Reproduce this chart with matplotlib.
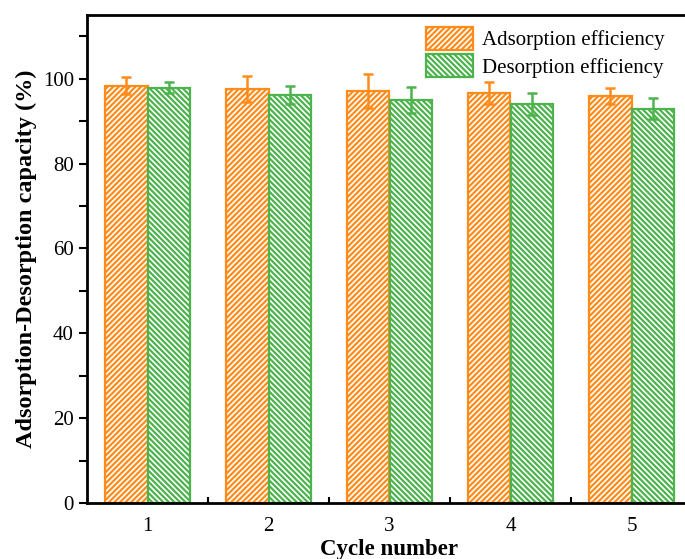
import numpy as np
import matplotlib.pyplot as plt

plt.rcParams['font.family'] = ['Liberation Serif', 'DejaVu Serif']
plt.rcParams['hatch.linewidth'] = 1.6

# 数据
cycles = [1, 2, 3, 4, 5]
ads_eff = [98.3, 97.6, 97.2, 96.6, 96.0]
ads_err = [2.0, 3.0, 4.0, 2.6, 1.9]
des_eff = [97.9, 96.2, 95.0, 94.0, 92.9]
des_err = [1.3, 2.1, 3.0, 2.6, 2.5]

c_ads = '#FF8C1A'
c_des = '#4DB34D'

fig = plt.figure(figsize=(6.85, 5.59), dpi=100)
ax = fig.add_axes([87 / 685, 56 / 559, 605 / 685, 488 / 559])

x = np.array(cycles)
w = 0.355

ax.bar(x - w / 2, ads_eff, w, yerr=ads_err, color='white', edgecolor=c_ads, hatch='//////',
       linewidth=1.6, label='Adsorption efficiency',
       error_kw=dict(ecolor=c_ads, elinewidth=1.8, capsize=3.6, capthick=1.8))
ax.bar(x + w / 2, des_eff, w, yerr=des_err, color='white', edgecolor=c_des, hatch='\\\\\\\\\\\\',
       linewidth=1.6, label='Desorption efficiency',
       error_kw=dict(ecolor=c_des, elinewidth=1.8, capsize=3.6, capthick=1.8))

ax.set_xlim(0.5, 5.5)
ax.set_ylim(0, 115)
ax.set_xticks(cycles)
ax.set_xticks(np.arange(1.5, 5.5, 1), minor=True)
ax.set_yticks(np.arange(0, 101, 20))
ax.set_yticks(np.arange(10, 115, 20), minor=True)

ax.tick_params(axis='x', which='major', length=0, labelsize=15, pad=10)
ax.tick_params(axis='x', which='minor', direction='in', length=4, width=1.5)
ax.tick_params(axis='y', which='both', direction='out', length=6, width=1.5, labelsize=15)

for s in ax.spines.values():
    s.set_linewidth(2)

ax.set_xlabel('Cycle number', fontsize=16.5, fontweight='bold', labelpad=2)
ax.set_ylabel('Adsorption-Desorption capacity (%)', fontsize=17.5, fontweight='bold', labelpad=4)

ax.legend(loc='upper right', bbox_to_anchor=(0.985, 1.014), frameon=False, fontsize=15,
          handlelength=2.27, handleheight=1.3, labelspacing=0.2, handletextpad=0.4)

fig.savefig('out.png', dpi=100)
